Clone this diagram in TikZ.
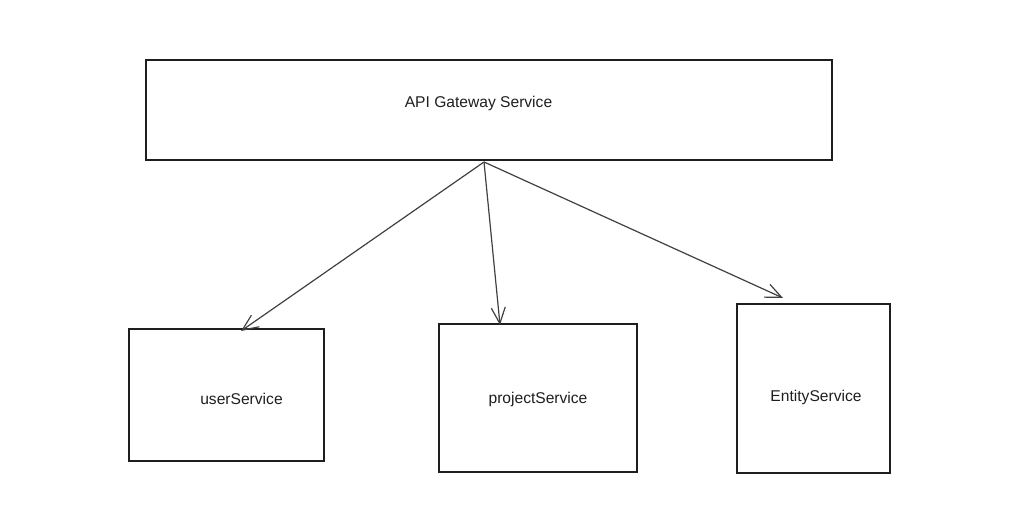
\documentclass[tikz,border=0pt]{standalone}
\usepackage{fontspec}
\setmainfont{Liberation Sans}
\usetikzlibrary{arrows.meta}
\definecolor{ink}{RGB}{30,30,30}

\begin{document}
\begin{tikzpicture} [
                x=0.5pt, y=-0.5pt,
                service/.style={draw=ink,line width=0.55pt,rectangle,inner sep=0pt},
                caption/.style={text=ink,font=\fontsize{7.8}{9}\selectfont,inner sep=0pt},
                call/.style = {draw=ink!85,line width=0.6pt,-{Straight Barb[length=8pt,width=7pt,line width=0.6pt]}},
            ]
            \useasboundingbox (0,0) rectangle (1026,512);
            % boxes: centre / width / height / name
            \foreach \pos/\w/\h/\name in {
                    {(489,110)/343/50/gateway}, {(226.5,395)/97.5/66/user},
                    {(538,398)/99/74/project}, {(813.5,388.5)/76.5/84.5/entity}}
                \node[service,minimum width=\w pt,minimum height=\h pt] (\name) at \pos {};
            % texts
            \node[caption] (gatewayText) at (478.5,103) {API Gateway Service};
            \node[caption] (userText) at (241.5,399) {userService};
            \node[caption] (projectText) at (538,399) {projectService};
            \node[caption] (entityText) at (816,397) {EntityService};
            % arrows from the gateway
            \coordinate (hub) at (484,162);
            \coordinate (userIn) at (241,331);
            \coordinate (projectIn) at (500,325);
            \coordinate (entityIn) at (783,298);
            \foreach \dest in {userIn,projectIn,entityIn}
                \path[call] (hub) -- (\dest);
        \end{tikzpicture}
\end{document}
